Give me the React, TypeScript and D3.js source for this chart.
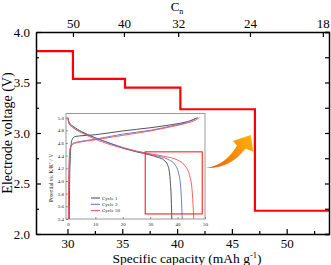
import { useRef, useEffect } from "react";
import * as d3 from "d3";

// main panel: step profile of electrode voltage vs specific capacity
const stepCapacity = [27.13, 30.5, 35.25, 40.3, 47.1, 53.86];
const stepVoltage = [3.81, 3.535, 3.45, 3.235, 2.23];
const capTicks = [30, 35, 40, 45, 50];
const capMinor = [32.5, 37.5, 42.5, 47.5, 52.5];
const voltTicks = [2.0, 2.5, 3.0, 3.5, 4.0];
const voltMinor = [2.25, 2.75, 3.25, 3.75];
const cnLabels = ["50", "40", "32", "24", "18"];
const cnCapacity = [30.5, 35.15, 40.1, 46.65, 53.3];

// inset: charge / discharge curves
const cycleNames = ["Cycle 1", "Cycle 2", "Cycle 50"];
const cycleColors = ["#404040", "#5b6fd2", "#ff4d4d"];
const chargeCap = [
  [0.5, 0.6, 0.8, 1.1, 1.6, 2.5, 4, 10, 20, 30, 38, 43, 46, 47.3],
  [0.2, 0.3, 0.5, 0.8, 1.3, 2.2, 4, 10, 20, 30, 38, 43, 46.5],
  [0.15, 0.25, 0.45, 0.75, 1.3, 2.3, 4, 10, 20, 30, 38, 43, 46, 48],
];
const chargeVolt = [
  [3.4, 3.9, 4.3, 4.55, 4.66, 4.7, 4.71, 4.73, 4.79, 4.84, 4.89, 4.93, 4.97, 5.0],
  [3.4, 3.9, 4.3, 4.5, 4.57, 4.6, 4.62, 4.66, 4.74, 4.8, 4.87, 4.92, 4.99],
  [3.4, 3.9, 4.3, 4.5, 4.56, 4.59, 4.61, 4.65, 4.72, 4.79, 4.86, 4.91, 4.95, 5.0],
];
const dischargeCap = [
  [0, 0.5, 2, 5, 10, 15, 20, 25, 30, 33, 35, 36.5, 37.3, 37.7, 37.9],
  [0, 0.5, 2, 5, 10, 15, 20, 25, 30, 34, 37, 39, 40.5, 41.3, 41.7],
  [0, 0.5, 2, 5, 10, 15, 20, 25, 30, 35, 40, 42.5, 44.3, 45.3, 45.9],
];
const dischargeVolt = [
  [5.0, 4.92, 4.86, 4.78, 4.68, 4.6, 4.52, 4.46, 4.41, 4.37, 4.33, 4.24, 4.02, 3.7, 3.4],
  [4.98, 4.9, 4.84, 4.77, 4.68, 4.6, 4.53, 4.47, 4.42, 4.38, 4.33, 4.26, 4.1, 3.8, 3.4],
  [5.0, 4.9, 4.84, 4.76, 4.66, 4.58, 4.52, 4.47, 4.43, 4.39, 4.33, 4.25, 4.1, 3.85, 3.4],
];
const insetCapTicks = [0, 10, 20, 30, 40, 50];
const insetVoltTicks = [3.4, 3.6, 3.8, 4.0, 4.2, 4.4, 4.6, 4.8, 5.0];
const zoomBox = { cap: [28.2, 49], volt: [3.48, 4.46] };

const W = 331;
const H = 265;
const m = { top: 32, right: 2, bottom: 31, left: 36 };
const serif = "'Liberation Serif', 'Times New Roman', serif";

const App = () => {
  const svgRef = useRef<SVGSVGElement>(null);

  useEffect(() => {
    const svg: any = d3.select(svgRef.current);
    svg.selectAll("*").remove();

    const x = d3.scaleLinear().domain([27.13, 53.86]).range([m.left, W - m.right]);
    const y = d3.scaleLinear().domain([2.0, 4.0]).range([H - m.bottom, m.top]);

    // step line
    const pts: [number, number][] = stepCapacity.map((c, i) => [c, stepVoltage[Math.min(i, stepVoltage.length - 1)]]);
    const step = d3.line<[number, number]>()
      .x(d => x(d[0]))
      .y(d => y(d[1]))
      .curve(d3.curveStepAfter);
    svg.append("path")
      .attr("d", step(pts))
      .attr("fill", "none")
      .attr("stroke", "#ff0000")
      .attr("stroke-width", 2.2);

    const styleAxis = (g: any) => {
      g.selectAll(".domain").attr("stroke", "#000").attr("stroke-width", 1.5);
      g.selectAll(".tick line").attr("stroke", "#000").attr("stroke-width", 1.2);
      g.selectAll("text").attr("font-family", serif).attr("font-size", 13).attr("fill", "#000");
    };

    // axes, ticks pointing inward
    const gB = svg.append("g").attr("transform", `translate(0,${H - m.bottom})`)
      .call(d3.axisBottom(x).tickValues(capTicks).tickSizeInner(-5).tickSizeOuter(0).tickPadding(5));
    styleAxis(gB);
    const gBm = svg.append("g").attr("transform", `translate(0,${H - m.bottom})`)
      .call(d3.axisBottom(x).tickValues(capMinor).tickSize(-3).tickFormat(() => ""));
    styleAxis(gBm);
    gBm.select(".domain").remove();

    const gL = svg.append("g").attr("transform", `translate(${m.left},0)`)
      .call(d3.axisLeft(y).tickValues(voltTicks).tickFormat(d3.format(".1f")).tickSizeInner(-5).tickSizeOuter(0).tickPadding(6));
    styleAxis(gL);
    const gLm = svg.append("g").attr("transform", `translate(${m.left},0)`)
      .call(d3.axisLeft(y).tickValues(voltMinor).tickSize(-3).tickFormat(() => ""));
    styleAxis(gLm);
    gLm.select(".domain").remove();

    const gR = svg.append("g").attr("transform", `translate(${W - m.right},0)`)
      .call(d3.axisRight(y).tickValues(voltTicks.concat(voltMinor)).tickSize(-4).tickFormat(() => ""));
    styleAxis(gR);

    const gT = svg.append("g").attr("transform", `translate(0,${m.top})`)
      .call(d3.axisTop(x).tickValues(cnCapacity).tickFormat((_: any, i: number) => cnLabels[i]).tickSizeInner(-5).tickSizeOuter(0).tickPadding(4));
    styleAxis(gT);

    // axis titles
    const xt = svg.append("text")
      .attr("x", 187).attr("y", 262.5)
      .attr("text-anchor", "middle")
      .attr("font-family", serif).attr("font-size", 13.5);
    xt.append("tspan").text("Specific capacity (mAh g");
    xt.append("tspan").attr("dy", -5).attr("font-size", 8.5).text("-1");
    xt.append("tspan").attr("dy", 5).text(")");

    svg.append("text")
      .attr("transform", `translate(12,${(m.top + H - m.bottom) / 2}) rotate(-90)`)
      .attr("text-anchor", "middle")
      .attr("font-family", serif).attr("font-size", 14)
      .text("Electrode voltage (V)");

    const ct = svg.append("text")
      .attr("x", 177).attr("y", 11)
      .attr("text-anchor", "middle")
      .attr("font-family", serif).attr("font-size", 13);
    ct.append("tspan").text("C");
    ct.append("tspan").attr("dy", 3).attr("font-size", 8).text("n");

    // inset
    const ix = d3.scaleLinear().domain([-0.7, 50]).range([66, 205]);
    const iy = d3.scaleLinear().domain([3.4, 5.065]).range([219, 113.5]);
    svg.append("rect")
      .attr("x", 66).attr("y", 113.5).attr("width", 139).attr("height", 105.5)
      .attr("fill", "#fff").attr("stroke", "#9a9a9a").attr("stroke-width", 1);

    const styleInset = (g: any) => {
      g.selectAll(".domain").remove();
      g.selectAll(".tick line").attr("stroke", "#555").attr("stroke-width", 0.6);
      g.selectAll("text").attr("font-family", serif).attr("font-size", 5).attr("fill", "#222");
    };
    const iB = svg.append("g").attr("transform", "translate(0,219)")
      .call(d3.axisBottom(ix).tickValues(insetCapTicks).tickSize(-2).tickPadding(3));
    styleInset(iB);
    const iL = svg.append("g").attr("transform", "translate(66,0)")
      .call(d3.axisLeft(iy).tickValues(insetVoltTicks).tickFormat(d3.format(".1f")).tickSize(-2).tickPadding(2));
    styleInset(iL);

    svg.append("text")
      .attr("transform", `translate(53,178) rotate(-90)`)
      .attr("text-anchor", "middle")
      .attr("font-family", serif).attr("font-size", 5.5).attr("fill", "#222")
      .text("Potential vs. K/K\u207A / V");

    const curve = d3.line<[number, number]>()
      .x(d => ix(d[0]))
      .y(d => iy(d[1]))
      .curve(d3.curveMonotoneX);
    cycleNames.forEach((_, k) => {
      const ch: [number, number][] = chargeCap[k].map((c, i) => [c, chargeVolt[k][i]]);
      const dc: [number, number][] = dischargeCap[k].map((c, i) => [c, dischargeVolt[k][i]]);
      [ch, dc].forEach(p => {
        svg.append("path")
          .attr("d", curve(p))
          .attr("fill", "none")
          .attr("stroke", cycleColors[k])
          .attr("stroke-width", 0.9);
      });
    });

    // legend
    cycleNames.forEach((name, k) => {
      const ly = 198 + k * 6.3;
      svg.append("line")
        .attr("x1", 91).attr("x2", 100).attr("y1", ly).attr("y2", ly)
        .attr("stroke", cycleColors[k]).attr("stroke-width", 1);
      svg.append("text")
        .attr("x", 102).attr("y", ly + 1.7)
        .attr("font-family", serif).attr("font-size", 5).attr("fill", "#222")
        .text(name);
    });

    // zoom box
    svg.append("rect")
      .attr("x", ix(zoomBox.cap[0])).attr("y", iy(zoomBox.volt[1]))
      .attr("width", ix(zoomBox.cap[1]) - ix(zoomBox.cap[0]))
      .attr("height", iy(zoomBox.volt[0]) - iy(zoomBox.volt[1]))
      .attr("fill", "none").attr("stroke", "#ff2020").attr("stroke-width", 1.1);

    // curved orange arrow
    const grad = svg.append("defs").append("linearGradient")
      .attr("id", "arrowGrad").attr("gradientUnits", "userSpaceOnUse")
      .attr("x1", 205).attr("y1", 168).attr("x2", 252).attr("y2", 136);
    grad.append("stop").attr("offset", 0).attr("stop-color", "#ee5a10");
    grad.append("stop").attr("offset", 1).attr("stop-color", "#ffb300");
    const ap = d3.path();
    ap.moveTo(206, 168);
    ap.quadraticCurveTo(226, 165, 237, 145.5);
    ap.lineTo(233, 141);
    ap.lineTo(250.7, 135);
    ap.lineTo(253.3, 151.7);
    ap.lineTo(245.5, 148.5);
    ap.quadraticCurveTo(230, 169, 206, 168);
    ap.closePath();
    svg.append("path").attr("d", ap.toString()).attr("fill", "url(#arrowGrad)");
  }, []);

  return (
    <svg ref={svgRef} width={W} height={H}
      style={{ position: "absolute", left: 0, top: 0, background: "#fff" }} />
  );
};

export default App;
